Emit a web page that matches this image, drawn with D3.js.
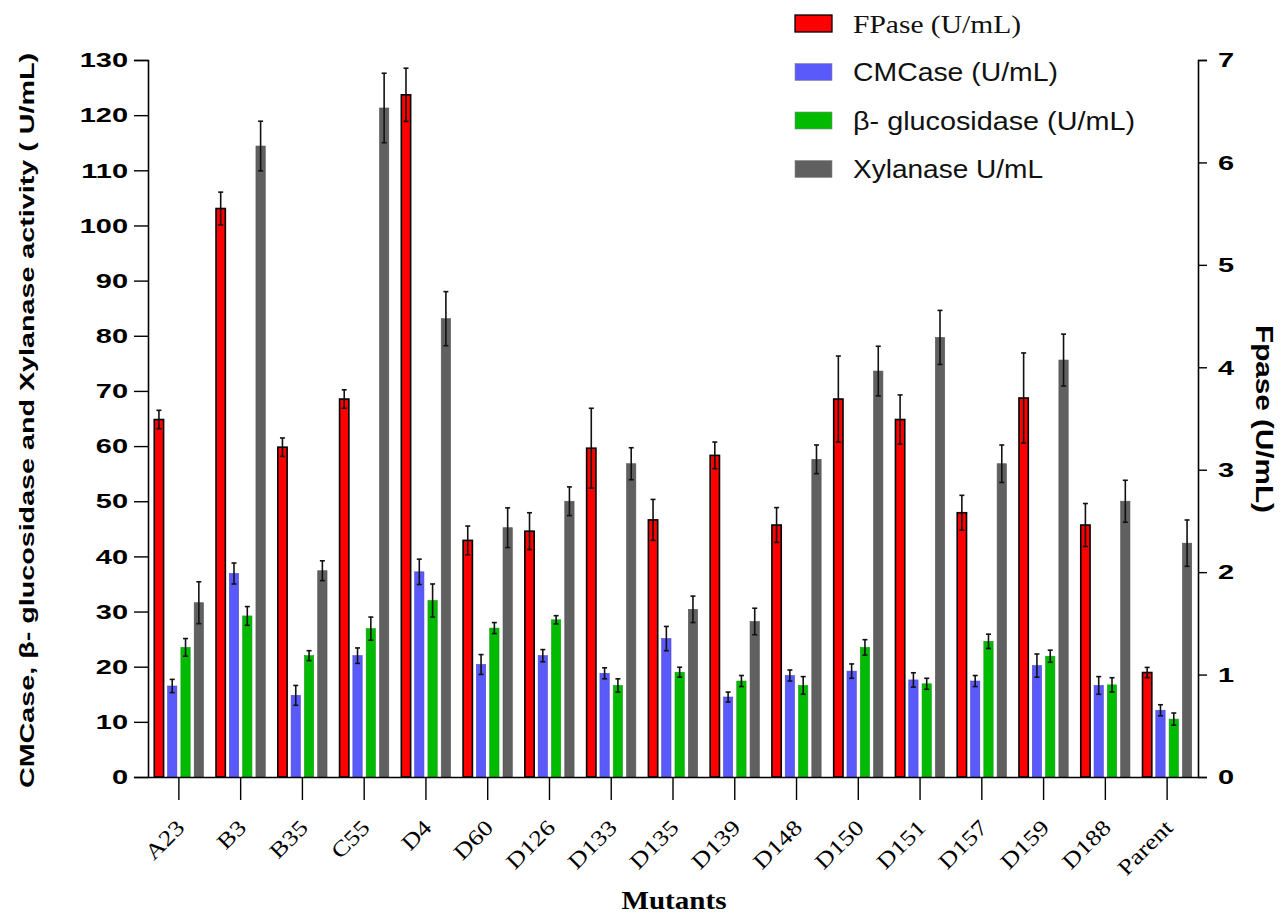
<!DOCTYPE html>
<html>
<head>
<meta charset="utf-8">
<script src="https://cdn.jsdelivr.net/npm/d3@7"></script>
<style>
  body { margin: 0; background: #fff; }
  .sans { font-family: "Liberation Sans", Arial, sans-serif; }
  .serif { font-family: "Liberation Serif", "Times New Roman", serif; }
</style>
</head>
<body>
<div id="chart"></div>
<script>
const mutants = ["A23", "B3", "B35", "C55", "D4", "D60", "D126", "D133", "D135", "D139", "D148", "D150", "D151", "D157", "D159", "D188", "Parent"];

// FPase on right axis (U/mL)
const fpase    = [3.49, 5.55, 3.22, 3.69, 6.66, 2.31, 2.40, 3.21, 2.51, 3.14, 2.46, 3.69, 3.49, 2.58, 3.70, 2.46, 1.02];
const fpaseErr = [0.09, 0.16, 0.09, 0.09, 0.26, 0.14, 0.18, 0.39, 0.20, 0.13, 0.17, 0.42, 0.24, 0.17, 0.44, 0.21, 0.05];

// left axis series (U/mL)
const cmcase    = [16.5, 36.9, 14.8, 22.0, 37.2, 20.4, 22.0, 18.8, 25.1, 14.5, 18.4, 19.2, 17.6, 17.4, 20.2, 16.6, 12.1];
const cmcaseErr = [1.2, 1.9, 1.8, 1.4, 2.3, 1.8, 1.1, 1.0, 2.2, 0.9, 1.0, 1.3, 1.3, 1.0, 2.1, 1.6, 1.0];
const bgluc     = [23.5, 29.2, 22.0, 26.9, 32.0, 27.0, 28.5, 16.6, 19.0, 17.4, 16.6, 23.5, 16.9, 24.6, 21.9, 16.7, 10.5];
const bglucErr  = [1.6, 1.7, 0.9, 2.1, 3.0, 1.0, 0.75, 1.2, 0.9, 1.0, 1.6, 1.4, 1.0, 1.3, 1.1, 1.3, 1.1];
const xylanase  = [31.6, 114.4, 37.4, 121.3, 83.1, 45.2, 50.0, 56.8, 30.4, 28.2, 57.6, 73.6, 79.7, 56.8, 75.6, 50.0, 42.4];
const xylErr    = [3.8, 4.5, 1.8, 6.3, 4.9, 3.6, 2.6, 2.9, 2.4, 2.4, 2.6, 4.5, 4.9, 3.4, 4.7, 3.8, 4.2];

const leftTicks = [0, 10, 20, 30, 40, 50, 60, 70, 80, 90, 100, 110, 120, 130];
const rightTicks = [0, 1, 2, 3, 4, 5, 6, 7];

const series = [
  { key: "fpase", label: "FPase (U/mL)", values: fpase, errs: fpaseErr, axis: "right", fill: "#ff0000", stroke: "#000", sw: 1.6, serif: true, len: 168 },
  { key: "cmcase", label: "CMCase (U/mL)", values: cmcase, errs: cmcaseErr, axis: "left", fill: "#5a5afa", stroke: "#4a4ad0", sw: 0.6, len: 205 },
  { key: "bgluc", label: "β- glucosidase (U/mL)", values: bgluc, errs: bglucErr, axis: "left", fill: "#00bb00", stroke: "#1a9a1a", sw: 0.6, len: 282 },
  { key: "xyl", label: "Xylanase U/mL", values: xylanase, errs: xylErr, axis: "left", fill: "#606060", stroke: "#555", sw: 0.6, len: 190 }
];

const width = 1288, height = 914;
const margin = { top: 60, right: 90, bottom: 137, left: 148 };
const plotW = width - margin.left - margin.right;
const plotH = height - margin.top - margin.bottom;

const svg = d3.select("#chart").append("svg")
  .attr("width", width)
  .attr("height", height);
const plot = svg.append("g")
  .attr("transform", `translate(${margin.left},${margin.top})`);

const x0 = d3.scaleBand().domain(mutants).range([0, plotW])
  .paddingInner(0.16).paddingOuter(0.08);
const x1 = d3.scaleBand().domain(series.map(s => s.key)).range([0, x0.bandwidth()])
  .paddingInner(0.3).paddingOuter(0.1);
const yL = d3.scaleLinear().domain([0, 130]).range([plotH, 0]);
const yR = d3.scaleLinear().domain([0, 7]).range([plotH, 0]);

// bars + error bars
series.forEach(s => {
  const y = s.axis === "left" ? yL : yR;
  const g = plot.append("g").attr("class", "series-" + s.key);
  const data = mutants.map((m, i) => ({ m, v: s.values[i], e: s.errs[i] }));
  g.selectAll("rect").data(data).enter().append("rect")
    .attr("x", d => x0(d.m) + x1(s.key))
    .attr("width", x1.bandwidth())
    .attr("y", d => y(d.v))
    .attr("height", d => plotH - y(d.v))
    .attr("fill", s.fill)
    .attr("stroke", s.stroke)
    .attr("stroke-width", s.sw);
  const eb = g.selectAll("g.err").data(data).enter().append("g").attr("class", "err")
    .attr("stroke", "#111").attr("stroke-width", 1.6);
  const cx = d => x0(d.m) + x1(s.key) + x1.bandwidth() / 2;
  eb.append("line")
    .attr("x1", cx).attr("x2", cx)
    .attr("y1", d => y(d.v - d.e)).attr("y2", d => y(d.v + d.e));
  eb.append("line")
    .attr("x1", d => cx(d) - 2.5).attr("x2", d => cx(d) + 2.5)
    .attr("y1", d => y(d.v + d.e)).attr("y2", d => y(d.v + d.e));
  eb.append("line")
    .attr("x1", d => cx(d) - 2.5).attr("x2", d => cx(d) + 2.5)
    .attr("y1", d => y(d.v - d.e)).attr("y2", d => y(d.v - d.e));
});

// axes
const leftAxis = plot.append("g").attr("class", "sans")
  .call(d3.axisLeft(yL).tickValues(leftTicks).tickSize(14).tickFormat(d3.format("d")));
const rightAxis = plot.append("g").attr("class", "sans")
  .attr("transform", `translate(${plotW},0)`)
  .call(d3.axisRight(yR).tickValues(rightTicks).tickSize(9).tickFormat(d3.format("d")));
[leftAxis, rightAxis].forEach(a => {
  a.select(".domain").attr("stroke-width", 1.6);
  a.selectAll(".tick line").attr("stroke-width", 1.4);
  a.selectAll("text")
    .style("font-size", "21px").style("font-weight", "bold").attr("fill", "#000")
    .attr("x", 0);
});
// wide bold digits as in the original
leftAxis.selectAll("text").attr("transform", "translate(-20,0) scale(1.38,1)");
rightAxis.selectAll("text").attr("transform", "translate(20,0) scale(1.38,1)");

const xAxis = plot.append("g").attr("class", "serif")
  .attr("transform", `translate(0,${plotH})`)
  .call(d3.axisBottom(x0).tickSizeInner(23).tickSizeOuter(0));
xAxis.select(".domain").attr("stroke-width", 1.6);
xAxis.selectAll(".tick line").attr("stroke-width", 1.4);
xAxis.selectAll(".tick text").remove();
xAxis.selectAll(".tick").append("text")
  .text(d => d)
  .style("font-size", "22px")
  .attr("fill", "#000")
  .attr("text-anchor", "end")
  .attr("transform", "translate(7,52) rotate(-45) scale(1.2,1)");

// axis titles
svg.append("text").attr("class", "sans")
  .attr("transform", `translate(34,${margin.top + plotH / 2 + 2}) rotate(-90)`)
  .attr("text-anchor", "middle")
  .attr("textLength", 735).attr("lengthAdjust", "spacingAndGlyphs")
  .style("font-size", "21px").style("font-weight", "bold")
  .text("CMCase, β- glucosidase and Xylanase activity ( U/mL)");

svg.append("text").attr("class", "sans")
  .attr("transform", `translate(1256,${419}) rotate(90)`)
  .attr("text-anchor", "middle")
  .attr("textLength", 188).attr("lengthAdjust", "spacingAndGlyphs")
  .style("font-size", "23px").style("font-weight", "bold")
  .text("Fpase (U/mL)");

svg.append("text").attr("class", "serif")
  .attr("x", 674).attr("y", 909)
  .attr("text-anchor", "middle")
  .attr("textLength", 105).attr("lengthAdjust", "spacingAndGlyphs")
  .style("font-size", "25px").style("font-weight", "bold")
  .text("Mutants");

// legend
const legend = svg.append("g").attr("transform", "translate(795,15)");
const item = legend.selectAll("g").data(series).enter().append("g")
  .attr("transform", (d, i) => `translate(0,${i * 48.5})`);
item.append("rect")
  .attr("width", 37).attr("height", 17)
  .attr("fill", d => d.fill)
  .attr("stroke", d => d.key === "fpase" ? "#000" : "#888")
  .attr("stroke-width", d => d.key === "fpase" ? 1.3 : 0.6);
item.append("text")
  .attr("class", d => d.serif ? "serif" : "sans")
  .attr("x", 58).attr("y", 9).attr("dy", "0.35em")
  .attr("textLength", d => d.len).attr("lengthAdjust", "spacingAndGlyphs")
  .style("font-size", d => d.serif ? "26px" : "25px")
  .attr("fill", "#111")
  .text(d => d.label);
</script>
</body>
</html>
